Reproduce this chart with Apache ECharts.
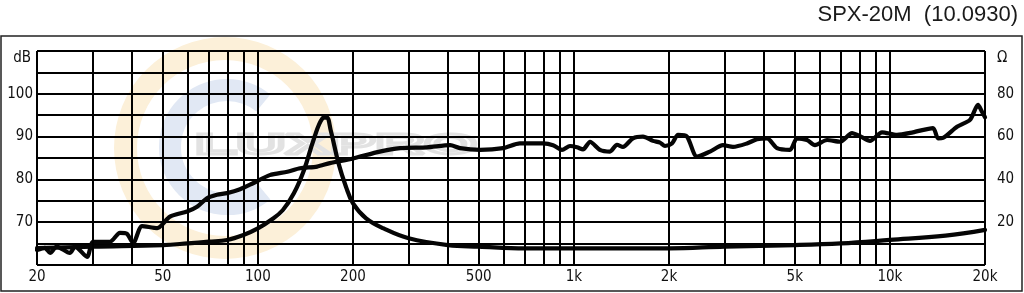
<!DOCTYPE html>
<html>
<head>
<meta charset="utf-8">
<script src="https://cdn.jsdelivr.net/npm/echarts@6/dist/echarts.min.js"></script>
<style>html,body{margin:0;padding:0;background:#fff}#c{width:1024px;height:293px}</style>
</head>
<body>
<div id="c"></div>
<script>
// Frequency response (dB, left axis)
var splFreq = [20,21.2,22,23.1,25.4,26.4,28.8,30.1,34,36.6,38.5,40.3,43,48,52.7,59.7,64.2,69,74.2,79.9,87.8,96.5,109,124,136,154,169,200,243,282,343,406,436,505,597,675,799,859,917,972,1023,1069,1125,1209,1301,1369,1430,1538,1655,1780,1873,1942,2044,2136,2280,2452,2696,2964,3188,3530,3798,4086,4394,4830,5084,5468,5794,6325,6953,7589,8044,8652,9444,10532,11834,13692,14202,14728,16308,17930,19006,19566,20000];
var splDb = [63.5,64.0,62.8,64.3,62.8,64.3,61.9,65.4,65.4,67.5,67.3,65.1,69.1,68.6,71.3,72.5,73.6,75.6,76.4,76.8,77.7,79.1,81.0,81.8,82.6,83.0,83.8,84.9,86.5,87.3,87.5,88.0,87.3,86.9,87.3,88.4,88.4,88.0,86.9,87.8,87.5,87.0,88.8,86.9,86.5,88.1,87.6,89.6,90.0,89.0,88.6,87.8,88.4,90.4,90.0,85.3,86.5,88.0,87.6,88.4,89.4,89.6,87.3,86.9,89.6,89.2,88.0,89.2,88.8,90.8,90.1,89.0,91.0,90.4,91.0,92.0,89.6,89.7,92.3,93.9,97.4,95.8,94.5];
// Impedance (ohm, right axis)
var impFreq = [20,30,50,60,70,80,90,100,110,120,130,140,150,160,165,170,180,190,200,220,250,300,400,500,700,1000,2000,3000,5000,7000,10000,15000,20000];
var impOhm = [7.9,8.6,9.3,10.1,10.9,11.7,14,17.1,21,25.7,33.5,44.4,58.4,68.5,69,63,47.5,36.6,28.8,21.8,17.1,12.5,9.3,8.6,7.8,7.8,7.8,8.6,9.3,10.1,11.7,13.7,16.4];
// Vertical grid frequencies and tick labels
var gridFreq = [20,30,40,50,60,70,80,90,100,200,300,400,500,600,700,800,900,1000,2000,3000,4000,5000,6000,7000,8000,9000,10000,20000];
var xTickLabels = {20:'20',50:'50',100:'100',200:'200',500:'500',1000:'1k',2000:'2k',5000:'5k',10000:'10k',20000:'20k'};
var leftTickLabels = {70:'70',80:'80',90:'90',100:'100'};
var rightTickLabels = {20:'20',40:'40',60:'60',80:'80'};
var titleText = 'SPX-20M  (10.0930)';

var FONT = '"DejaVu Sans Condensed","DejaVu Sans",sans-serif';
var chart = echarts.init(document.getElementById('c'), null, {renderer:'canvas'});

function zip(a,b){return a.map(function(v,i){return [v,b[i]];});}

var vLines = gridFreq.map(function(f){
  var lbl = xTickLabels[f];
  return {xAxis: f, label: {show: !!lbl, formatter: lbl || ''}};
});

chart.setOption({
  animation: false,
  backgroundColor: '#fff',
  title: {text: titleText, right: 1, top: -1, textStyle: {fontFamily: '"Liberation Sans",Arial,sans-serif', fontWeight: 'normal', fontSize: 22, color: '#1a1a1a'}},
  grid: {left: 37, right: 39, top: 51, bottom: 28},
  xAxis: {type: 'log', logBase: 10, min: 20, max: 20000,
    axisLine: {show: false}, axisTick: {show: false}, axisLabel: {show: false}, splitLine: {show: false}},
  yAxis: [
    {type: 'value', min: 60, max: 110, interval: 5, position: 'left',
     axisLine: {show: false}, axisTick: {show: false},
     axisLabel: {margin: 4, fontFamily: FONT, fontSize: 15, color: '#111', formatter: function(v){return leftTickLabels[v] || '';}},
     splitLine: {show: true, lineStyle: {color: '#000', width: 2}}},
    {type: 'value', min: 0, max: 100, interval: 10, position: 'right',
     axisLine: {show: false}, axisTick: {show: false},
     axisLabel: {margin: 12, fontFamily: FONT, fontSize: 15, color: '#111', formatter: function(v){return rightTickLabels[v] || '';}},
     splitLine: {show: false}}
  ],
  graphic: [
    {type: 'rect', z: -10, silent: true, shape: {x: 1, y: 36, width: 1021, height: 255}, style: {fill: 'none', stroke: '#222', lineWidth: 1.5}},
    {type: 'ring', z: -10, silent: true, shape: {cx: 225, cy: 148, r: 111, r0: 88}, style: {fill: '#fcf0d9'}},
    {type: 'arc', z: -9, silent: true, shape: {cx: 227, cy: 147, r: 57, startAngle: Math.PI*0.28, endAngle: Math.PI*1.72, clockwise: true}, style: {stroke: '#e1e8f4', lineWidth: 22, fill: 'none'}},
    {type: 'text', z: -8, silent: true, x: 336, y: 146, scaleX: 2.25, style: {text: 'LUXPRO', font: 'bold 30px "Liberation Sans",Arial,sans-serif', fill: 'rgba(0,0,0,0)', stroke: '#e2e2e2', lineWidth: 3, align: 'center', verticalAlign: 'middle'}},
    {type: 'text', silent: true, x: 31, y: 58, style: {text: 'dB', font: '15px ' + FONT, fill: '#111', align: 'right', verticalAlign: 'middle'}},
    {type: 'text', silent: true, x: 997, y: 58, style: {text: 'Ω', font: '15px ' + FONT, fill: '#111', align: 'left', verticalAlign: 'middle'}}
  ],
  series: [
    {type: 'line', name: 'grid', data: [], yAxisIndex: 0, z: 1, silent: true,
     markLine: {silent: true, symbol: ['none','none'], animation: false,
       lineStyle: {color: '#000', width: 2, type: 'solid'},
       label: {position: 'start', distance: 5, fontFamily: FONT, fontSize: 15, color: '#111'},
       emphasis: {disabled: true},
       data: vLines}},
    {type: 'line', name: 'SPL', data: zip(splFreq, splDb), yAxisIndex: 0, z: 3, showSymbol: false, symbol: 'none', smooth: 0.25,
     lineStyle: {color: '#050505', width: 4.2, join: 'round', cap: 'round'}},
    {type: 'line', name: 'Impedance', data: zip(impFreq, impOhm), yAxisIndex: 1, z: 3, showSymbol: false, symbol: 'none', smooth: 0.4,
     lineStyle: {color: '#050505', width: 4.2, join: 'round', cap: 'round'}}
  ]
});
</script>
</body>
</html>
